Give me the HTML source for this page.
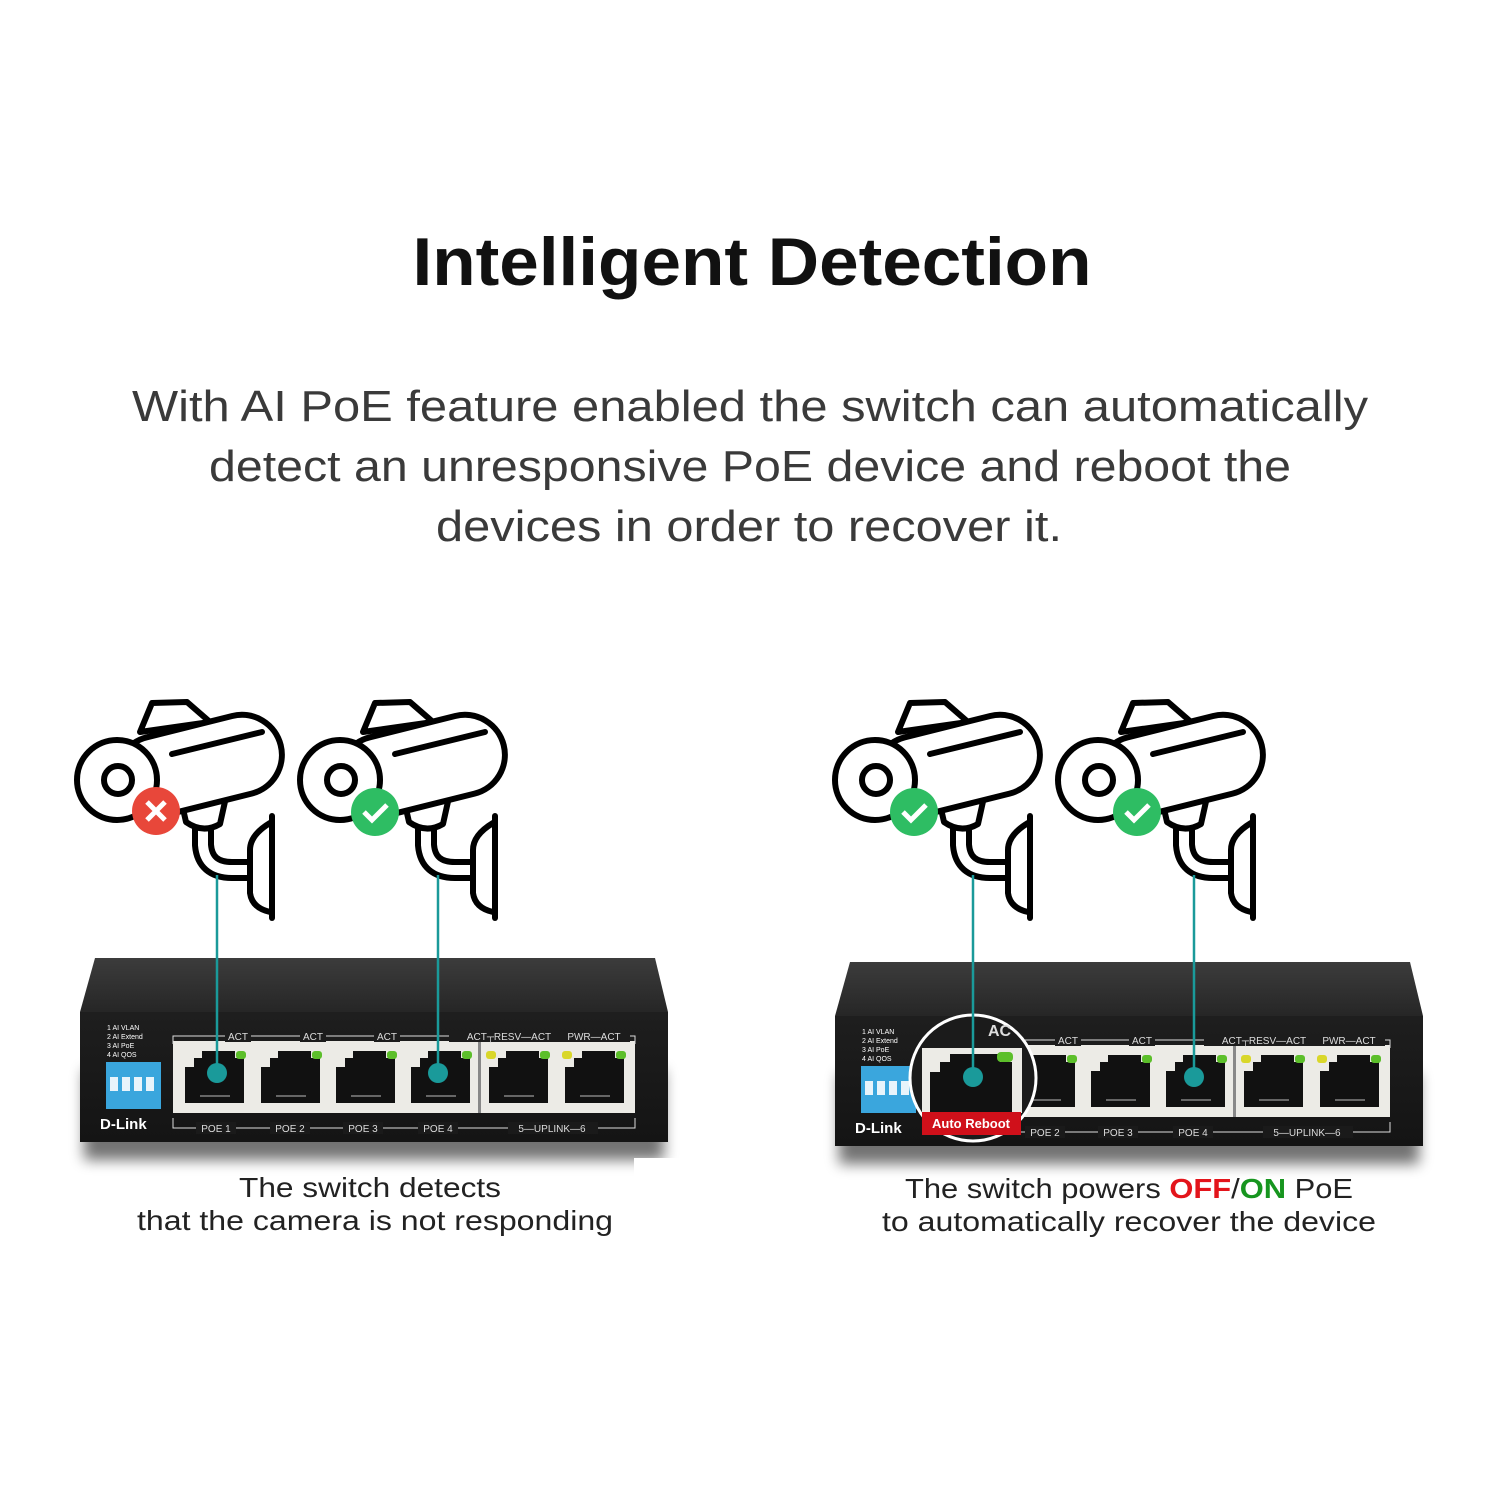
<!DOCTYPE html>
<html><head><meta charset="utf-8"><style>
html,body{margin:0;padding:0;background:#fff;}
svg{display:block;}
text{font-family:"Liberation Sans","DejaVu Sans",sans-serif;}
</style></head><body>
<svg width="1500" height="1500" viewBox="0 0 1500 1500" xmlns="http://www.w3.org/2000/svg">
<defs>
<linearGradient id="top" x1="0" y1="0" x2="0" y2="1"><stop offset="0" stop-color="#3c3c3c"/><stop offset="1" stop-color="#262626"/></linearGradient>
<linearGradient id="front" x1="0" y1="0" x2="0" y2="1"><stop offset="0" stop-color="#1e1e1e"/><stop offset="1" stop-color="#141414"/></linearGradient>
<filter id="sh" x="-10%" y="-50%" width="120%" height="200%"><feGaussianBlur stdDeviation="7"/></filter>
<g id="cam" fill="none" stroke="#000" stroke-width="6" stroke-linejoin="round" stroke-linecap="round">
  <path d="M140,732 L152,703 L187,702 L210,722 Z" fill="#fff"/>
  <path d="M203,826 L203,845 Q205,870 232,870 L250,870" stroke-width="22"/>
  <path d="M203,826 L203,845 Q205,870 232,870 L250,870" stroke="#fff" stroke-width="10"/>
  <path d="M181,800 L186,822 Q203,834 220,824 L226,797 Z" fill="#fff"/>
  <g transform="rotate(-14 205 764)"><rect x="115" y="724" width="168" height="80" rx="40" fill="#fff"/></g>
  <circle cx="117" cy="780" r="40" fill="#fff"/>
  <circle cx="118" cy="780" r="14"/>
  <line x1="172" y1="754" x2="262" y2="732"/>
  <path d="M270,823 Q250,835 250,850 L250,893 Q252,908 270,912" fill="#fff"/>
  <line x1="272" y1="816" x2="272" y2="918"/>
</g>
<g id="port">
  <rect x="0" y="0" width="70" height="64" fill="#ecebe6"/>
  <path d="M5,22 L14,22 L14,13 L22,13 L22,6 L55,6 L55,13 L64,13 L64,58 L5,58 Z" fill="#111"/>
  <g fill="#666"><rect x="20" y="50" width="30" height="2"/></g>
  <rect x="56" y="6" width="10" height="8" rx="3" fill="#5cbf2a"/>
</g>
<g id="sw">
  <rect x="84" y="1070" width="580" height="90" fill="#000" opacity="0.55" filter="url(#sh)"/>
  <polygon points="95,958 655,958 668,1012 80,1012" fill="url(#top)"/>
  <rect x="80" y="1012" width="588" height="130" fill="url(#front)"/>
  <g fill="#fff" font-size="7"><text x="107" y="1030">1 AI VLAN</text><text x="107" y="1039">2 AI Extend</text><text x="107" y="1048">3 AI PoE</text><text x="107" y="1057">4 AI QOS</text></g>
  <rect x="106" y="1062" width="55" height="47" fill="#3aa6dd"/>
  <g fill="#e8f4fb"><rect x="110" y="1077" width="8" height="14"/><rect x="122" y="1077" width="8" height="14"/><rect x="134" y="1077" width="8" height="14"/><rect x="146" y="1077" width="8" height="14"/></g>
  <text x="100" y="1129" fill="#fff" font-family="Liberation Serif,serif" font-weight="bold" font-size="15">D-Link</text>
  <rect x="173" y="1041" width="462" height="72" fill="#ecebe6"/>
  <rect x="478" y="1041" width="3" height="72" fill="#888"/>
  <use href="#port" x="180" y="1045"/><use href="#port" x="256" y="1045"/><use href="#port" x="331" y="1045"/><use href="#port" x="406" y="1045"/><use href="#port" x="484" y="1045"/><use href="#port" x="560" y="1045"/>
  <rect x="486" y="1051" width="10" height="8" rx="3" fill="#d9d72a"/><rect x="562" y="1051" width="10" height="8" rx="3" fill="#d9d72a"/>
  <g stroke="#ddd" stroke-width="1" fill="none"><path d="M173,1044 L173,1036 L635,1036 L635,1044"/><path d="M173,1118 L173,1128 L635,1128 L635,1118"/></g>
  <g fill="#ddd" font-size="10" text-anchor="middle">
    <rect x="225" y="1030" width="26" height="12" fill="#1c1c1c"/><text x="238" y="1040">ACT</text>
    <rect x="300" y="1030" width="26" height="12" fill="#1c1c1c"/><text x="313" y="1040">ACT</text>
    <rect x="374" y="1030" width="26" height="12" fill="#1c1c1c"/><text x="387" y="1040">ACT</text>
    <rect x="449" y="1030" width="120" height="12" fill="#1c1c1c"/><text x="509" y="1040">ACT┬RESV—ACT</text>
    <rect x="558" y="1030" width="72" height="12" fill="#1c1c1c"/><text x="594" y="1040">PWR—ACT</text>
    <rect x="196" y="1122" width="40" height="12" fill="#1a1a1a"/><text x="216" y="1132">POE 1</text>
    <rect x="270" y="1122" width="40" height="12" fill="#1a1a1a"/><text x="290" y="1132">POE 2</text>
    <rect x="343" y="1122" width="40" height="12" fill="#1a1a1a"/><text x="363" y="1132">POE 3</text>
    <rect x="418" y="1122" width="40" height="12" fill="#1a1a1a"/><text x="438" y="1132">POE 4</text>
    <rect x="508" y="1122" width="90" height="12" fill="#1a1a1a"/><text x="552" y="1132">5—UPLINK—6</text>
  </g>
</g>
</defs>

<text x="752" y="285" text-anchor="middle" font-size="68" font-weight="bold" fill="#111" textLength="679" lengthAdjust="spacingAndGlyphs">Intelligent Detection</text>
<g font-size="44" fill="#3a3a3a" text-anchor="middle">
<text x="750" y="421" textLength="1236" lengthAdjust="spacingAndGlyphs">With AI PoE feature enabled the switch can automatically</text>
<text x="750" y="481" textLength="1082" lengthAdjust="spacingAndGlyphs">detect an unresponsive PoE device and reboot the</text>
<text x="749" y="541" textLength="626" lengthAdjust="spacingAndGlyphs">devices in order to recover it.</text>
</g>

<use href="#cam"/><use href="#cam" x="223"/>
<use href="#cam" x="758"/><use href="#cam" x="981"/>
<circle cx="156" cy="811" r="24" fill="#e8473a"/>
<path d="M147,802 L165,820 M165,802 L147,820" stroke="#fff" stroke-width="5"/>
<g fill="#2ebd63"><circle cx="375" cy="812" r="24"/><circle cx="914" cy="812" r="24"/><circle cx="1137" cy="812" r="24"/></g>
<g stroke="#fff" stroke-width="5" fill="none"><path d="M364,812 L372,820 L387,805"/><path d="M903,812 L911,820 L926,805"/><path d="M1126,812 L1134,820 L1149,805"/></g>

<use href="#sw"/>
<use href="#sw" transform="translate(755,4)"/>
<rect x="634" y="1158" width="60" height="30" fill="#fff"/>

<circle cx="973" cy="1078" r="63" fill="#1b1b1b" stroke="#fff" stroke-width="3"/>
<rect x="922" y="1048" width="100" height="65" fill="#ecebe6"/>
<path d="M930,1072 L940,1072 L940,1062 L950,1062 L950,1054 L1000,1054 L1000,1062 L1012,1062 L1012,1112 L930,1112 Z" fill="#111"/>
<rect x="997" y="1052" width="16" height="10" rx="4" fill="#5cbf2a"/>
<text x="988" y="1036" fill="#ddd" font-size="16" font-weight="bold">AC</text>
<rect x="922" y="1112" width="99" height="23" fill="#d0101a"/>
<text x="971" y="1128" fill="#fff" font-size="13" font-weight="bold" text-anchor="middle">Auto Reboot</text>

<g stroke="#1a9a9a" stroke-width="2.5"><line x1="217" y1="875" x2="217" y2="1073"/><line x1="438" y1="875" x2="438" y2="1073"/><line x1="973" y1="875" x2="973" y2="1077"/><line x1="1194" y1="875" x2="1194" y2="1077"/></g>
<g fill="#1a9a9a"><circle cx="217" cy="1073" r="10"/><circle cx="438" cy="1073" r="10"/><circle cx="973" cy="1077" r="10"/><circle cx="1194" cy="1077" r="10"/></g>

<g font-size="28" fill="#222" text-anchor="middle">
<text x="370" y="1197" textLength="262" lengthAdjust="spacingAndGlyphs">The switch detects</text>
<text x="375" y="1230" textLength="476" lengthAdjust="spacingAndGlyphs">that the camera is not responding</text>
<text x="1129" y="1198" textLength="448" lengthAdjust="spacingAndGlyphs">The switch powers <tspan fill="#e3141b" font-weight="bold">OFF</tspan>/<tspan fill="#17951f" font-weight="bold">ON</tspan> PoE</text>
<text x="1129" y="1231" textLength="494" lengthAdjust="spacingAndGlyphs">to automatically recover the device</text>
</g>
</svg>
</body></html>
